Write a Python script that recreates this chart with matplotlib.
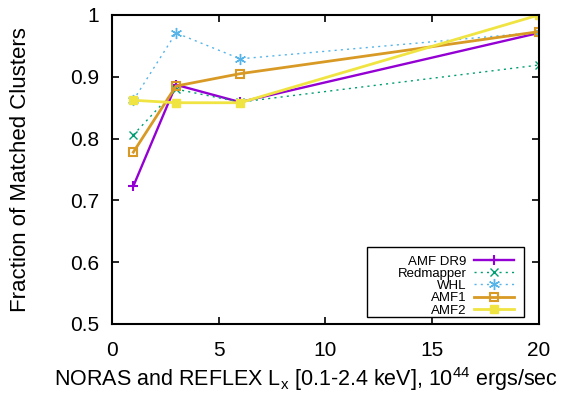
import matplotlib
matplotlib.use("Agg")
import matplotlib.pyplot as plt
from matplotlib.patches import Rectangle

plt.rcParams["font.family"] = ["Liberation Sans", "DejaVu Sans"]
plt.rcParams["mathtext.fontset"] = "custom"
plt.rcParams["mathtext.rm"] = "Liberation Sans"
plt.rcParams["mathtext.it"] = "Liberation Sans"

# luminosity bins (10^44 ergs/sec)
lx = [1, 3, 6, 20]

amf_dr9 = [0.723, 0.887, 0.859, 0.971]
redmapper = [0.806, 0.880, 0.859, 0.919]
whl = [0.862, 0.971, 0.929, 0.972]
amf1 = [0.778, 0.885, 0.905, 0.973]
amf2 = [0.862, 0.858, 0.858, 1.0]

xticks = [0, 5, 10, 15, 20]
yticks = [0.5, 0.6, 0.7, 0.8, 0.9, 1.0]
ytick_labels = ["0.5", "0.6", "0.7", "0.8", "0.9", "1"]

fig = plt.figure(figsize=(5.82, 3.94), dpi=100)
ax = fig.add_axes([0.1924, 0.1777, 0.7336, 0.7843])

ax.plot(lx, amf_dr9, color="#9400d3", lw=1.7, marker="+", ms=7, mew=1.5, label="AMF DR9")
ax.plot(lx, redmapper, color="#009e73", lw=1.0, ls=(0, (1.5, 3)), marker="x", ms=6, mew=1.0, label="Redmapper")
ax.plot(lx, whl, color="#56b4e9", lw=1.0, ls=(0, (1.5, 3)), marker=(6, 2, 0), ms=8, mew=1.0, label="WHL")
ax.plot(lx, amf1, color="#d89a25", lw=2.0, marker="s", ms=6, mfc="none", mew=1.5, label="AMF1")
ax.plot(lx, amf2, color="#f0e442", lw=2.0, marker="s", ms=5.5, mew=1.0, label="AMF2")

ax.set_xlim(0, 20)
ax.set_ylim(0.5, 1.0)
ax.set_xticks(xticks)
ax.set_yticks(yticks)
ax.set_yticklabels(ytick_labels)
ax.tick_params(direction="in", length=5, width=1.2, top=True, right=True, labelsize=15)
ax.tick_params(axis="x", pad=12)
ax.tick_params(axis="y", pad=9)
for s in ax.spines.values():
    s.set_linewidth(1.5)

ax.set_ylabel("Fraction of Matched Clusters", fontsize=16)
ax.yaxis.set_label_coords(-0.19, 0.5)
ax.set_xlabel("NORAS and REFLEX L$_{\\rm x}$ [0.1-2.4 keV], 10$^{44}$ ergs/sec",
              fontsize=15.5, ha="left")
ax.xaxis.set_label_coords(-0.136, -0.132)

# gnuplot-style key: labels right-aligned, samples on the right, wide box
ax.add_patch(Rectangle((0.597, 0.0227), 0.368, 0.226, transform=ax.transAxes,
                       facecolor="white", edgecolor="black", lw=1.0, zorder=4))
leg = ax.legend(loc="lower right", bbox_to_anchor=(0.9415, 0.024), markerfirst=False,
                fontsize=9.5, frameon=False, handlelength=3.0, handletextpad=0.6,
                labelspacing=0.0, borderpad=0, borderaxespad=0)
leg.set_zorder(5)
for t in leg.get_texts():
    t.set_ha("right")

fig.savefig("out.png", dpi=100)
